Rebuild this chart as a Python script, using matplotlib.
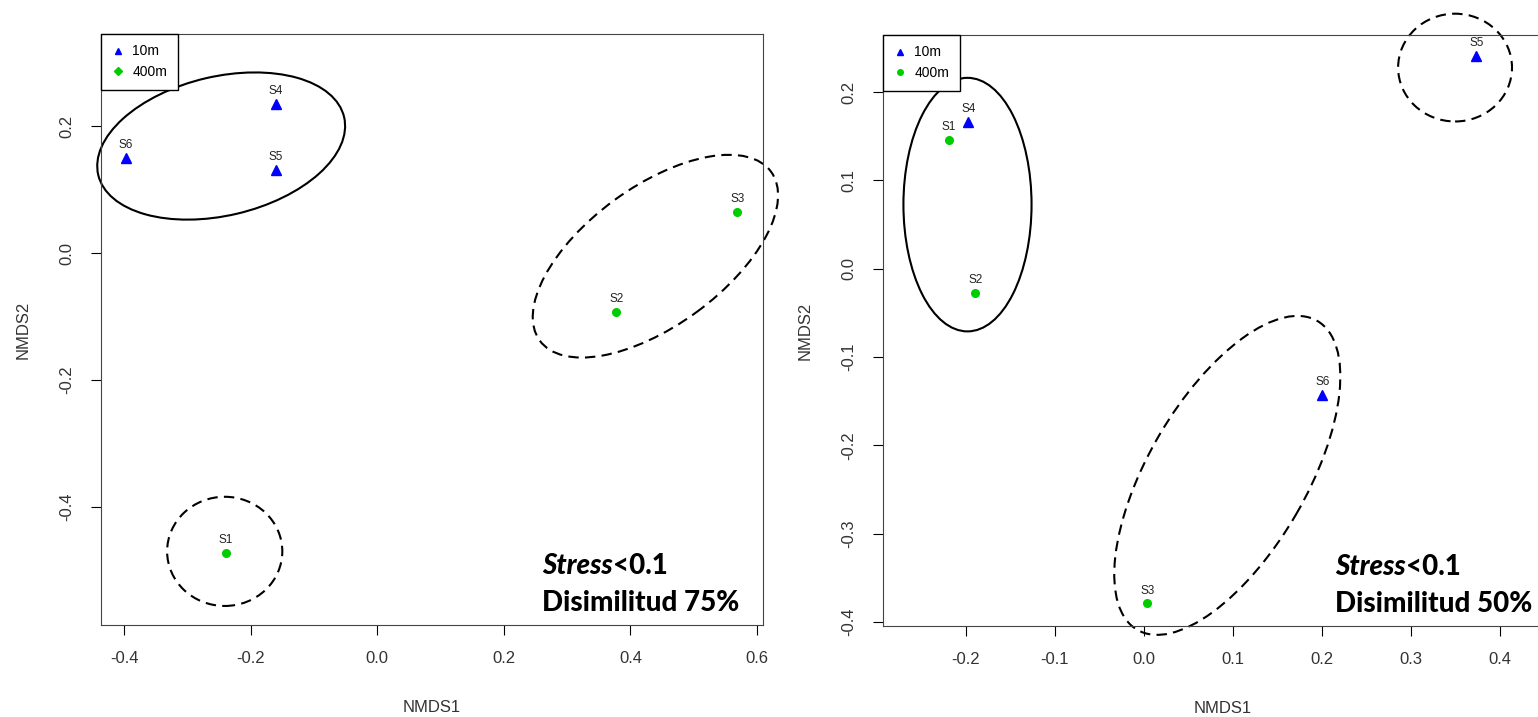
import matplotlib.pyplot as plt
from matplotlib.patches import Ellipse
from matplotlib.lines import Line2D

plt.rcParams['font.family'] = ['Liberation Sans', 'DejaVu Sans']

labels = ["S1", "S2", "S3", "S4", "S5", "S6"]
depth = ["400m", "400m", "400m", "10m", "10m", "10m"]

# panel 1 (Disimilitud 75%)
x_75 = [-0.239, 0.378, 0.569, -0.160, -0.160, -0.397]
y_75 = [-0.472, -0.093, 0.065, 0.235, 0.131, 0.150]
# ellipses: center x, center y, width, height, angle
ell_cx_75 = [-0.2466, 0.4395, -0.241]
ell_cy_75 = [0.1685, -0.005, -0.470]
ell_w_75 = [0.399, 0.452, 0.182]
ell_h_75 = [0.219, 0.219, 0.172]
ell_ang_75 = [13.2, 36, 0]
ell_dash_75 = [False, True, True]

# panel 2 (Disimilitud 50%)
x_50 = [-0.219, -0.189, 0.004, -0.197, 0.374, 0.201]
y_50 = [0.146, -0.027, -0.379, 0.166, 0.241, -0.143]
ell_cx_50 = [-0.198, 0.350, 0.094]
ell_cy_50 = [0.0725, 0.2276, -0.234]
ell_w_50 = [0.144, 0.128, 0.404]
ell_h_50 = [0.287, 0.122, 0.178]
ell_ang_50 = [0, 0, 60]
ell_dash_50 = [False, True, True]

colors = {"10m": "#0000FF", "400m": "#00CD00"}
markers = {"10m": "^", "400m": "o"}

fig = plt.figure(figsize=(15.38, 7.17), dpi=100)
ax1 = fig.add_axes([0.0657, 0.1283, 0.4304, 0.8243])
ax2 = fig.add_axes([0.5741, 0.1269, 0.4414, 0.8243])


def draw_panel(ax, xs, ys, cx, cy, w, h, ang, dash, legend_marker, pct):
    for x, y, lab, d in zip(xs, ys, labels, depth):
        ax.plot(x, y, marker=markers[d], color=colors[d], ms=6.5 if d == "10m" else 5.5,
                linestyle='none', clip_on=False)
        ax.annotate(lab, (x, y), xytext=(0, 5), textcoords='offset points',
                    ha='center', va='bottom', fontsize=8.5, color='#222222')
    for i in range(len(cx)):
        e = Ellipse((cx[i], cy[i]), w[i], h[i], angle=ang[i], fill=False,
                    edgecolor='black', lw=1.5, clip_on=False,
                    linestyle=(0, (5, 3)) if dash[i] else '-')
        ax.add_patch(e)
    handles = [Line2D([], [], marker='^', color=colors["10m"], ms=5, linestyle='none'),
               Line2D([], [], marker=legend_marker, color=colors["400m"], ms=4, linestyle='none')]
    leg = ax.legend(handles, ["10m", "400m"], loc='upper left', borderaxespad=0,
                    fancybox=False, edgecolor='black', framealpha=1, fontsize=10,
                    handlelength=1.0, handletextpad=0.5, borderpad=0.75, labelspacing=0.5)
    leg.get_frame().set_linewidth(1.0)
    t = ax.text(0.666, 0.100, "Stress", transform=ax.transAxes, fontsize=20,
                fontweight='black', style='italic', family='Lato', va='center')
    ax.annotate("<0.1", xy=(1, 0.5), xycoords=t, va='center', fontsize=20,
                fontweight='black', family='Lato')
    ax.text(0.666, 0.037, "Disimilitud %d%%" % pct, transform=ax.transAxes, fontsize=20,
            fontweight='black', family='Lato', va='center')
    ax.set_xlabel("NMDS1", fontsize=12, color='#333333', labelpad=24)
    ax.set_ylabel("NMDS2", fontsize=12, color='#333333', labelpad=21)
    ax.tick_params(direction='out', length=7, labelsize=12, labelcolor='#333333', pad=12)
    for s in ax.spines.values():
        s.set_color('#444444')


draw_panel(ax1, x_75, y_75, ell_cx_75, ell_cy_75, ell_w_75, ell_h_75, ell_ang_75,
           ell_dash_75, 'D', 75)
ax1.set_xlim(-0.4364, 0.6095)
ax1.set_ylim(-0.586, 0.345)
ax1.set_xticks([-0.4, -0.2, 0.0, 0.2, 0.4, 0.6])
ax1.set_yticks([-0.4, -0.2, 0.0, 0.2])
ax1.set_xticklabels(["-0.4", "-0.2", "0.0", "0.2", "0.4", "0.6"])
ax1.set_yticklabels(["-0.4", "-0.2", "0.0", "0.2"], rotation=90, va='center')

draw_panel(ax2, x_50, y_50, ell_cx_50, ell_cy_50, ell_w_50, ell_h_50, ell_ang_50,
           ell_dash_50, 'o', 50)
ax2.set_xlim(-0.293, 0.470)
ax2.set_ylim(-0.4045, 0.2645)
ax2.set_xticks([-0.2, -0.1, 0.0, 0.1, 0.2, 0.3, 0.4])
ax2.set_yticks([-0.4, -0.3, -0.2, -0.1, 0.0, 0.1, 0.2])
ax2.set_xticklabels(["-0.2", "-0.1", "0.0", "0.1", "0.2", "0.3", "0.4"])
ax2.set_yticklabels(["-0.4", "-0.3", "-0.2", "-0.1", "0.0", "0.1", "0.2"], rotation=90, va='center')

fig.savefig("out.png", dpi=100)
